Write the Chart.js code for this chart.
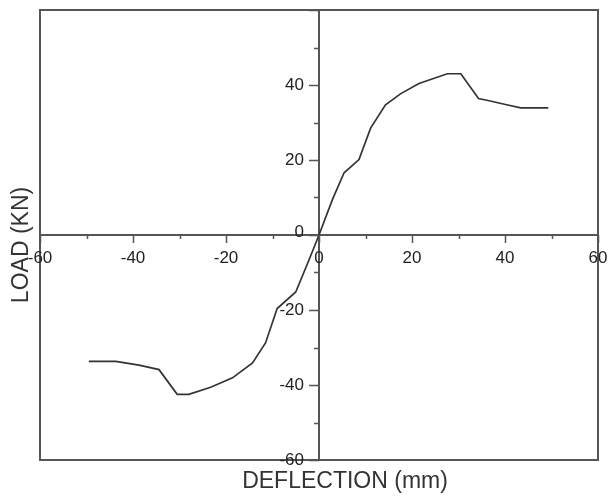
<!DOCTYPE html>
<html>
<head>
<meta charset="utf-8">
<title>Load vs deflection</title>
<script src="https://cdn.jsdelivr.net/npm/chart.js@4/dist/chart.umd.min.js"></script>
<style>
  html, body { margin: 0; padding: 0; background: #fff; }
  #wrap { width: 608px; height: 497px; }
</style>
</head>
<body>
<div id="wrap"><canvas id="myChart" width="608" height="497"></canvas></div>
<script>
// Hysteresis envelope: deflection (mm) against load (kN)
var deflection = [-49.5, -43.7, -38.7, -34.4, -30.5, -28.0, -23.3, -18.6, -14.3, -11.5, -9.0, -5.0, -2.2, 0,
                  2.9, 5.4, 8.6, 11.1, 14.3, 17.6, 21.5, 27.6, 30.5, 34.3, 36.6, 40.1, 43.4, 49.3];
var load = [-33.7, -33.7, -34.7, -35.9, -42.5, -42.5, -40.6, -38.1, -34.1, -28.8, -19.6, -15.2, -6.8, 0,
            9.5, 16.6, 20.1, 28.5, 34.7, 37.7, 40.4, 43.0, 43.0, 36.4, 35.8, 34.8, 33.9, 33.9];

// axis ticks: every 10 gets a mark, labels on every 20
var xTicks = [-60, -50, -40, -30, -20, -10, 0, 10, 20, 30, 40, 50, 60];
var yTicks = [-60, -50, -40, -30, -20, -10, 0, 10, 20, 30, 40, 50, 60];
var xLabels = [-60, -40, -20, 0, 20, 40, 60];
var yLabels = [-60, -40, -20, 0, 20, 40];

var xTitle = 'DEFLECTION (mm)';
var yTitle = 'LOAD (KN)';

var FONT = '"Liberation Sans", Arial, sans-serif';
var AXIS = '#555';

var points = deflection.map(function (d, i) { return { x: d, y: load[i] }; });

// frame, tick marks, tick labels and axis titles around the crossed axes
var framePlugin = {
  id: 'frame',
  afterDraw: function (chart) {
    var ctx = chart.ctx, a = chart.chartArea;
    var xs = chart.scales.x, ys = chart.scales.y;
    var x0 = xs.getPixelForValue(0), y0 = ys.getPixelForValue(0);
    ctx.save();
    ctx.strokeStyle = AXIS;
    ctx.lineWidth = 2;
    ctx.strokeRect(a.left, a.top, a.right - a.left, a.bottom - a.top);

    ctx.lineWidth = 1.5;
    ctx.beginPath();
    xTicks.forEach(function (v) {
      var px = Math.round(xs.getPixelForValue(v)) + 0.5;
      var len = v % 20 === 0 ? 8 : 4;
      ctx.moveTo(px, y0);
      ctx.lineTo(px, y0 + len);
    });
    yTicks.forEach(function (v) {
      var py = Math.round(ys.getPixelForValue(v)) + 0.5;
      var len = v % 20 === 0 ? 10 : 5;
      ctx.moveTo(x0, py);
      ctx.lineTo(x0 - len, py);
    });
    ctx.stroke();

    ctx.fillStyle = '#222';
    ctx.font = '17px ' + FONT;
    ctx.textBaseline = 'middle';
    ctx.textAlign = 'center';
    xLabels.forEach(function (v) {
      ctx.fillText(String(v), xs.getPixelForValue(v), y0 + 23);
    });
    ctx.textAlign = 'right';
    yLabels.forEach(function (v) {
      ctx.fillText(String(v), x0 - 15, ys.getPixelForValue(v) + (v === 0 ? -3 : 0));
    });

    ctx.fillStyle = '#333';
    ctx.font = '23px ' + FONT;
    ctx.textAlign = 'center';
    ctx.fillText(xTitle, 345, 482);
    ctx.translate(22, 245);
    ctx.rotate(-Math.PI / 2);
    ctx.fillText(yTitle, 0, 0);
    ctx.restore();
  }
};

var ctx = document.getElementById('myChart').getContext('2d');

var myChart = new Chart(ctx, {
  type: 'scatter',
  data: {
    datasets: [{
      label: 'Load',
      data: points,
      showLine: true,
      borderColor: '#333',
      borderWidth: 1.7,
      pointRadius: 0,
      tension: 0,
      fill: false
    }]
  },
  options: {
    responsive: false,
    animation: false,
    layout: { padding: { left: 40, top: 10, right: 10, bottom: 37 } },
    plugins: {
      legend: { display: false },
      tooltip: { enabled: false }
    },
    scales: {
      x: {
        type: 'linear',
        min: -60,
        max: 60,
        position: { y: 0 },
        grid: { display: false, drawTicks: false },
        border: { display: true, color: AXIS, width: 2 },
        ticks: { display: false, stepSize: 10 }
      },
      y: {
        type: 'linear',
        min: -60,
        max: 60,
        position: { x: 0 },
        grid: { display: false, drawTicks: false },
        border: { display: true, color: AXIS, width: 2 },
        ticks: { display: false, stepSize: 10 }
      }
    }
  },
  plugins: [framePlugin]
});
</script>
</body>
</html>
